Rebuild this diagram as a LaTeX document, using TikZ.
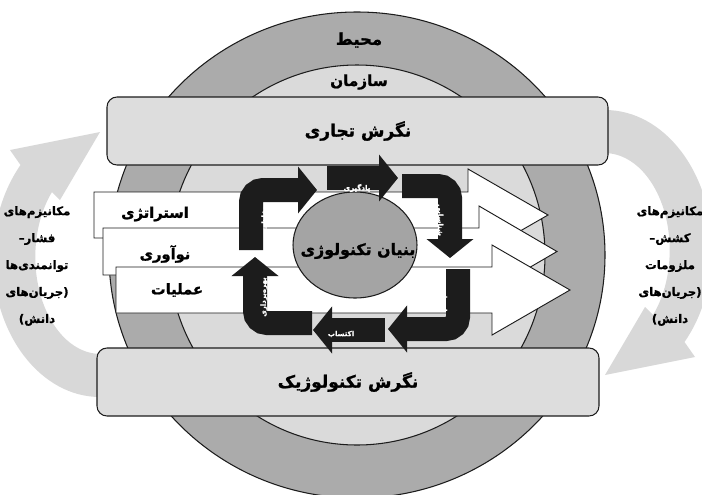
\documentclass[tikz,border=0pt]{standalone}
\usepackage{fontspec}
\usepackage{tikz}
\usetikzlibrary{arrows.meta}
\newfontfamily\fafont[Script=Arabic, BoldFeatures={FakeBold=1.2}]{DejaVu Sans}
\TeXXeTstate=1
\newcommand{\fa}[1]{{\fafont\bfseries\beginR #1\endR}}
\definecolor{RingDark}{HTML}{ABABAB}
\definecolor{RingLight}{HTML}{DADADA}
\definecolor{PanelGray}{HTML}{DDDDDD}
\definecolor{CoreGray}{HTML}{A4A4A4}
\definecolor{FlowGray}{HTML}{D8D8D8}
\definecolor{Ink}{HTML}{1C1C1C}

\begin{document}
\begin{tikzpicture}[x=0.03cm, y=-0.03cm,
    every node/.style={inner sep=1pt},
    panel/.style={draw=Ink, line width=0.9pt, fill=PanelGray, rounded corners=0.3cm},
    flowarrow/.style={draw=Ink, line width=0.8pt, fill=white},
    cyclearrow/.style={draw=Ink, line width=0.72cm, rounded corners=0.36cm,
        -{Triangle[length=0.57cm, width=1.38cm]}},
    cyclelabel/.style={white, font=\fontsize{6}{6}\selectfont},
    sidetext/.style={align=center, font=\fontsize{10}{23}\selectfont}
]

\useasboundingbox (0,0) rectangle (702,494);
\clip (0,0) rectangle (702,494);

% === Side flows (push left, pull right) ===
\fill[FlowGray] (100,397) arc[start angle=90, end angle=222, x radius=107, y radius=139]
    -- (10,150) -- (100,132) -- (60,200) -- (52,192)
    arc[start angle=222, end angle=90, x radius=65, y radius=97] -- cycle;
\begin{scope}[rotate around={180:(352.5,253.5)}]
\fill[FlowGray] (100,397) arc[start angle=90, end angle=222, x radius=107, y radius=139]
    -- (10,150) -- (100,132) -- (60,200) -- (52,192)
    arc[start angle=222, end angle=90, x radius=65, y radius=97] -- cycle;
\end{scope}

\node[sidetext] (pushtxt) at (37,266)
    {\fa{مکانیزم‌های}\\\fa{فشار–}\\\fa{توانمندی‌ها}\\\fa{(جریان‌های}\\\fa{دانش)}};
\node[sidetext] (pulltxt) at (670,266)
    {\fa{مکانیزم‌های}\\\fa{کشش–}\\\fa{ملزومات}\\\fa{(جریان‌های}\\\fa{دانش)}};

% === Environment and organisation ===
\filldraw[fill=RingDark, draw=Ink, line width=0.9pt] (357,255) ellipse [x radius=248, y radius=243];
\filldraw[fill=RingLight, draw=Ink, line width=0.9pt] (357,255) ellipse [x radius=188, y radius=190];
\node[font=\fontsize{14}{14}\selectfont] (mohit) at (359,40) {\fa{محیط}};
\node[font=\fontsize{13}{13}\selectfont] (sazman) at (359,82) {\fa{سازمان}};

% === Perspectives ===
\draw[panel] (107,97) rectangle (608,165);
\node[font=\fontsize{14.5}{14.5}\selectfont] (tejari) at (358,131) {\fa{نگرش تجاری}};
\draw[panel] (97,348) rectangle (599,416);
\node[font=\fontsize{14.5}{14.5}\selectfont] (tekno) at (348,382) {\fa{نگرش تکنولوژیک}};

% === Business processes ===
\draw[flowarrow] (94,192) -- (468,192) -- (468,169) -- (548,215) -- (468,261) -- (468,238) -- (94,238) -- cycle;
\node[font=\fontsize{12.5}{12.5}\selectfont] (strategy) at (155,214) {\fa{استراتژی}};
\draw[flowarrow] (103,228) -- (479,228) -- (479,206) -- (557,251.5) -- (479,297) -- (479,275) -- (103,275) -- cycle;
\node[font=\fontsize{12.5}{12.5}\selectfont] (innov) at (165,254) {\fa{نوآوری}};
\draw[flowarrow] (116,267) -- (492,267) -- (492,245) -- (570,290) -- (492,335) -- (492,313) -- (116,313) -- cycle;
\node[font=\fontsize{12.5}{12.5}\selectfont] (oper) at (177,290) {\fa{عملیات}};

% === Technology base ===
\filldraw[fill=CoreGray, draw=Ink, line width=0.9pt] (355,245) ellipse [x radius=62, y radius=53];
\node[font=\fontsize{13.5}{13.5}\selectfont] (core) at (358,251) {\fa{بنیان تکنولوژی}};

% === Technology management cycle ===
\draw[cyclearrow] (251,250) -- (251,190) -- (317,190);
\draw[cyclearrow] (327,178) -- (398,178);
\draw[cyclearrow] (402,186) -- (450,186) -- (450,258);
\draw[cyclearrow] (458,269) -- (458,329) -- (388,329);
\draw[cyclearrow] (385,330) -- (313,330);
\draw[cyclearrow] (312,323) -- (255,323) -- (255,257);

\node[cyclelabel] (learn) at (357,188) {\fa{یادگیری}};
\node[cyclelabel, rotate=-90] (ident) at (440,220) {\fa{شناسایی}};
\node[cyclelabel, rotate=-90] (select) at (444,300) {\fa{انتخاب}};
\node[cyclelabel] (acquire) at (341,334) {\fa{اکتساب}};
\node[cyclelabel, rotate=90] (exploit) at (264,297) {\fa{بهره‌برداری}};
\node[cyclelabel, rotate=90] (protect) at (264,218) {\fa{حفاظت}};

\end{tikzpicture}
\end{document}
